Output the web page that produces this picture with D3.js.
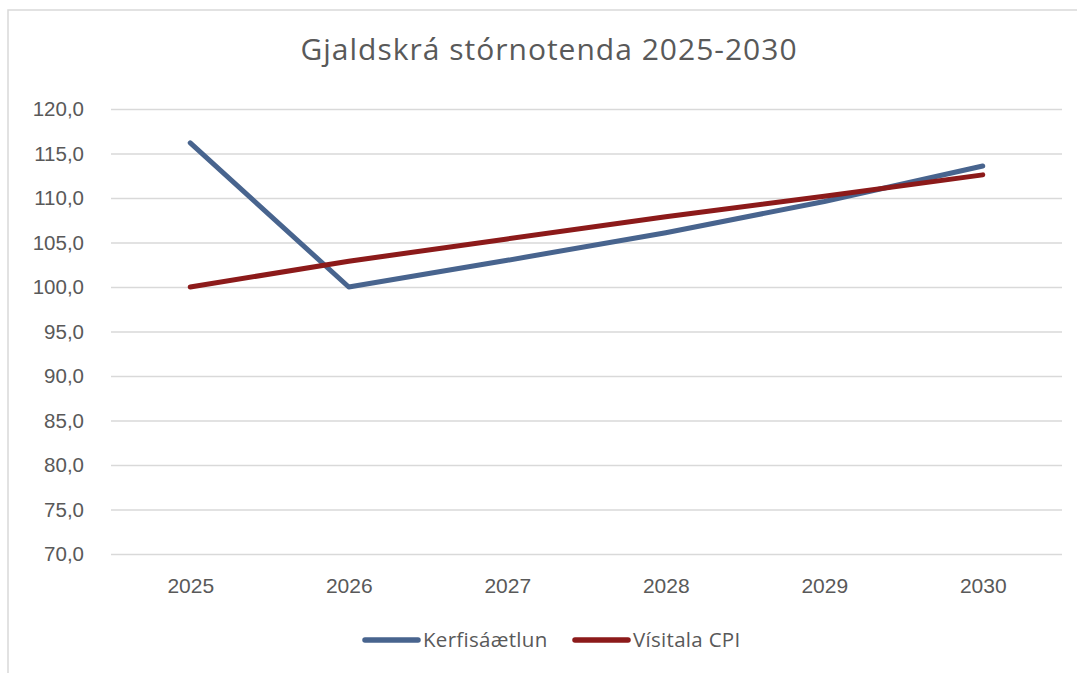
<!DOCTYPE html>
<html>
<head>
<meta charset="utf-8">
<script src="https://cdn.jsdelivr.net/npm/d3@7"></script>
<style>
  html, body { margin: 0; padding: 0; background: #fff; }
  svg { display: block; }
</style>
</head>
<body>
<svg id="chart" width="1077" height="673"></svg>
<script>
// Gjaldskrá stórnotenda – index (2025/2026 = 100)
const years = ["2025", "2026", "2027", "2028", "2029", "2030"];
const kerfisaaetlun = [116.2, 100.0, 103.0, 106.1, 109.6, 113.6];
const visitalaCPI = [100.0, 102.9, 105.4, 107.9, 110.2, 112.6];
const yTicks = [70, 75, 80, 85, 90, 95, 100, 105, 110, 115, 120];
const seriesNames = ["Kerfisáætlun", "Vísitala CPI"];
const seriesColors = ["#48648e", "#8c1a1a"];

const svg = d3.select("#chart");
const W = 1077, H = 673;
const plot = { left: 111, right: 1062, top: 109, bottom: 554 };

// chart frame
svg.append("path")
  .attr("d", `M8,${H + 2} L8,10 L${W + 2},10`)
  .attr("fill", "none")
  .attr("stroke", "#d9d9d9")
  .attr("stroke-width", 1.5);

// title
svg.append("text")
  .attr("x", 549)
  .attr("y", 60)
  .attr("text-anchor", "middle")
  .attr("font-family", "'Open Sans', sans-serif")
  .attr("font-size", 30)
  .attr("letter-spacing", 1)
  .attr("fill", "#595959")
  .text("Gjaldskrá stórnotenda 2025-2030");

const x = d3.scalePoint().domain(years).range([plot.left, plot.right]).padding(0.5);
const y = d3.scaleLinear().domain([70, 120]).range([plot.bottom, plot.top]);

const fmt = v => d3.format(".1f")(v).replace(".", ",");

// horizontal gridlines + y labels
const yAxis = d3.axisLeft(y)
  .tickValues(yTicks)
  .tickSize(-(plot.right - plot.left))
  .tickPadding(27)
  .tickFormat(fmt);

const gy = svg.append("g")
  .attr("transform", `translate(${plot.left},0)`)
  .call(yAxis);
gy.select(".domain").remove();
gy.selectAll(".tick line").attr("stroke", "#d9d9d9").attr("stroke-width", 1.5);
gy.selectAll(".tick text")
  .attr("font-family", "'Liberation Sans', Arial, sans-serif")
  .attr("font-size", 20.5)
  .attr("fill", "#595959");

// x labels
const xAxis = d3.axisBottom(x).tickSize(0).tickPadding(24);
const gx = svg.append("g")
  .attr("transform", `translate(0,${plot.bottom})`)
  .call(xAxis);
gx.select(".domain").remove();
gx.selectAll(".tick text")
  .attr("font-family", "'Liberation Sans', Arial, sans-serif")
  .attr("font-size", 21)
  .attr("fill", "#595959");

// series lines
const line = d3.line()
  .x((d, i) => x(years[i]))
  .y(d => y(d));

[kerfisaaetlun, visitalaCPI].forEach((vals, k) => {
  svg.append("path")
    .datum(vals)
    .attr("d", line)
    .attr("fill", "none")
    .attr("stroke", seriesColors[k])
    .attr("stroke-width", 5)
    .attr("stroke-linecap", "round")
    .attr("stroke-linejoin", "round");
});

// legend
const legendItems = [
  { x: 365, name: seriesNames[0], color: seriesColors[0] },
  { x: 575, name: seriesNames[1], color: seriesColors[1] }
];
const lg = svg.append("g").attr("transform", "translate(0,640)");
legendItems.forEach(it => {
  lg.append("line")
    .attr("x1", it.x).attr("x2", it.x + 53)
    .attr("y1", 0).attr("y2", 0)
    .attr("stroke", it.color)
    .attr("stroke-width", 5.5)
    .attr("stroke-linecap", "round");
  lg.append("text")
    .attr("x", it.x + 58)
    .attr("y", 7)
    .attr("font-family", "'Open Sans', sans-serif")
    .attr("font-size", 20.5)
    .attr("letter-spacing", 0.3)
    .attr("fill", "#595959")
    .text(it.name);
});
</script>
</body>
</html>
